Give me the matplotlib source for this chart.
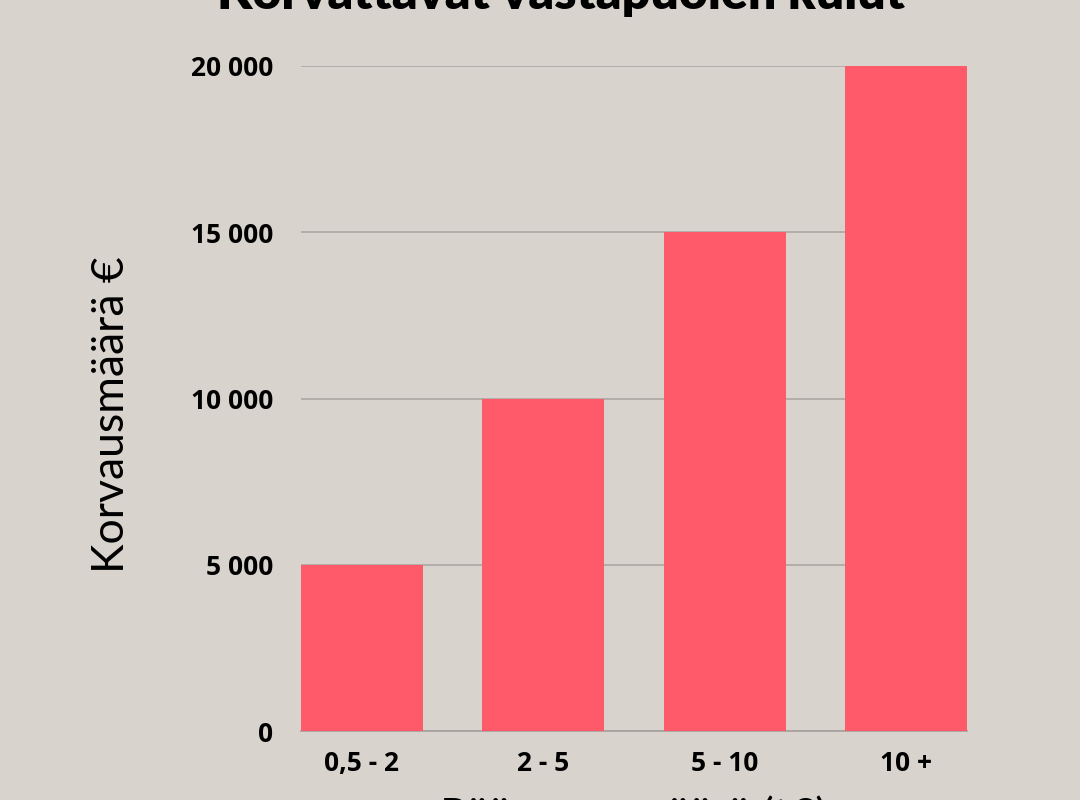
import matplotlib
matplotlib.use("Agg")
from matplotlib import pyplot as plt
from matplotlib.ticker import FuncFormatter

# data
categories = ["0,5 - 2", "2 - 5", "5 - 10", "10 +"]
values = [5000, 10000, 15000, 20000]
y_ticks = [0, 5000, 10000, 15000, 20000]

title = "Korvattavat vastapuolen kulut"
y_title = "Korvausmäärä €"
x_title = "Pääoman määrä (t€)"

bg = "#d8d3cd"
bar_color = "#ff5a69"
grid_color = "#a9a49f"

fig = plt.figure(figsize=(10.8, 8), dpi=100, facecolor=bg)
ax = fig.add_axes([0.2787, 0.08625, 0.6167, 0.83125], facecolor=bg)

x = range(len(categories))
ax.bar(x, values, width=0.67, color=bar_color, zorder=3)

ax.set_xlim(-0.335, len(categories) - 1 + 0.335)
ax.set_ylim(0, 20000)
ax.set_yticks(y_ticks)
ax.yaxis.set_major_formatter(FuncFormatter(lambda v, p: f"{int(v):,}".replace(",", " ")))
ax.set_xticks(list(x))
ax.set_xticklabels(categories)

for lab in ax.get_xticklabels() + ax.get_yticklabels():
    lab.set_fontfamily("Open Sans")
    lab.set_fontweight("bold")
    lab.set_fontsize(19)
    lab.set_color("black")

ax.tick_params(axis="both", length=0)
ax.tick_params(axis="y", pad=20)
ax.tick_params(axis="x", pad=14)

ax.grid(axis="y", color=grid_color, linewidth=1.1, zorder=0)
for s in ["top", "right", "left"]:
    ax.spines[s].set_visible(False)
ax.spines["bottom"].set_color(grid_color)
ax.spines["bottom"].set_linewidth(1.3)

# title and axis titles partly cut by the canvas edges, as in the reference
fig.text(561 / 1080, 1 - 9 / 800, title, ha="center", va="baseline",
         fontsize=36, fontweight="heavy", family="Lato", color="black")
fig.text(112 / 1080, 1 - 415 / 800, y_title, ha="center", va="center", rotation=90,
         fontsize=32, fontweight="normal", family="Lato", color="black")
fig.text(634 / 1080, 1 - 830 / 800, x_title, ha="center", va="baseline",
         fontsize=32, fontweight="normal", family="Lato", color="black")

fig.savefig("out.png", dpi=100, facecolor=bg)
